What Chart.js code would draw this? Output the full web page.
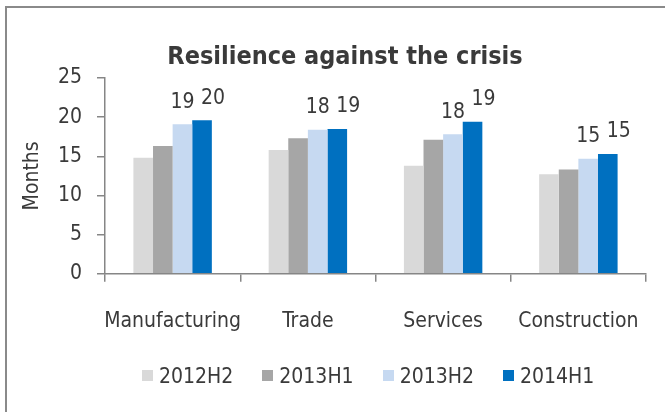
<!DOCTYPE html>
<html>
<head>
<meta charset="utf-8">
<script src="https://cdn.jsdelivr.net/npm/chart.js@4"></script>
<style>
  html, body { margin: 0; padding: 0; background: #fff; overflow: hidden; }
  body { width: 665px; height: 412px; position: relative; font-family: 'DejaVu Sans Condensed', 'DejaVu Sans', sans-serif; color: #3a3a3a; }
  #frame { position: absolute; left: 5px; top: 6px; width: 700px; height: 450px; border-left: 2px solid #8a8a8a; border-top: 2px solid #8a8a8a; }
  #title { position: absolute; left: 0; top: 43px; width: 690px; text-align: center; font-size: 25px; line-height: 25px; font-weight: bold; }
  canvas { position: absolute; left: 0; top: 0; }
  #legend { position: absolute; left: 142px; top: 366px; display: flex; font-size: 21px; line-height: 21px; white-space: nowrap; }
  .legend-item { display: flex; align-items: center; margin-right: 29px; }
  .legend-box { width: 11px; height: 11px; margin-right: 6px; position: relative; top: -1px; }
</style>
</head>
<body>
<div id="frame"></div>
<canvas id="chart" width="665" height="412"></canvas>
<div id="title">Resilience against the crisis</div>
<div id="legend"></div>
<script>
(function () {

// --- data ---
const categories = ['Manufacturing', 'Trade', 'Services', 'Construction'];
const seriesNames = ['2012H2', '2013H1', '2013H2', '2014H1'];
const h2012b = [14.8, 15.8, 13.8, 12.7];
const h2013a = [16.3, 17.3, 17.1, 13.3];
const h2013b = [19.1, 18.4, 17.8, 14.7];
const h2014a = [19.6, 18.5, 19.4, 15.3];
const yTicks = [0, 5, 10, 15, 20, 25];

const LIGHT_GREY = '#d9d9d9';
const GREY = '#a6a6a6';
const LIGHT_BLUE = '#c6d9f1';
const BLUE = '#0070c0';
const AXIS = '#868686';
const TEXT = '#3a3a3a';
const FONT = "'DejaVu Sans Condensed', 'DejaVu Sans', sans-serif";
const colors = [LIGHT_GREY, GREY, LIGHT_BLUE, BLUE];

Chart.defaults.font.family = FONT;
Chart.defaults.font.size = 21;
Chart.defaults.color = TEXT;

// value labels above the two latest series
const barLabels = {
  id: 'barLabels',
  afterDatasetsDraw(chart) {
    const ctx = chart.ctx;
    ctx.save();
    ctx.font = `21px ${FONT}`;
    ctx.fillStyle = TEXT;
    ctx.textAlign = 'center';
    ctx.textBaseline = 'middle';
    chart.data.datasets.forEach((ds, di) => {
      if (!ds.showLabel) return;
      chart.getDatasetMeta(di).data.forEach((bar, i) => {
        ctx.fillText(String(Math.round(ds.data[i])), bar.x + ds.labelShift, bar.y - 22);
      });
    });
    ctx.restore();
  },
};

new Chart(document.getElementById('chart'), {
  type: 'bar',
  data: {
    labels: categories,
    datasets: [
      { label: seriesNames[0], data: h2012b, backgroundColor: colors[0] },
      { label: seriesNames[1], data: h2013a, backgroundColor: colors[1] },
      { label: seriesNames[2], data: h2013b, backgroundColor: colors[2], showLabel: true, labelShift: 0 },
      { label: seriesNames[3], data: h2014a, backgroundColor: colors[3], showLabel: true, labelShift: 11 },
    ],
  },
  options: {
    responsive: false, animation: false, devicePixelRatio: 1,
    layout: { padding: { left: 0, right: 19, top: 78, bottom: 0 } },
    datasets: { bar: { categoryPercentage: 0.58, barPercentage: 1.0, borderWidth: 0 } },
    plugins: {
      title: { display: false },
      tooltip: { enabled: false },
      legend: { display: false },
    },
    scales: {
      x: {
        grid: { display: true, drawOnChartArea: false, tickLength: 8, color: AXIS, lineWidth: 1.5, offset: true },
        border: { color: AXIS, width: 1.5 },
        ticks: { padding: 27, color: TEXT, font: { size: 21 }, maxRotation: 0, autoSkip: false },
        afterFit(scale) {
          scale.height = 138.3;
          // labels fit inside their category, no extra side room needed
          scale.paddingLeft = 0;
          scale.paddingRight = 0;
        },
      },
      y: {
        min: 0, max: 25,
        afterBuildTicks(scale) { scale.ticks = yTicks.map(v => ({ value: v })); },
        grid: { display: true, drawOnChartArea: false, tickLength: 8, color: AXIS, lineWidth: 1.5 },
        border: { color: AXIS, width: 1.5 },
        ticks: { padding: 15, color: TEXT, font: { size: 21 } },
        title: { display: true, text: 'Months', color: TEXT, font: { size: 21 }, padding: { top: 20, bottom: 0 } },
        afterFit(scale) { scale.width = 105; },
      },
    },
  },
  plugins: [barLabels],
});

// legend as plain html rows
document.getElementById('legend').innerHTML = seriesNames.map((s, i) => `
  <div class="legend-item"><span class="legend-box" style="background:${colors[i]}"></span><span>${s}</span></div>
`).join('');

})();
</script>
</body>
</html>
